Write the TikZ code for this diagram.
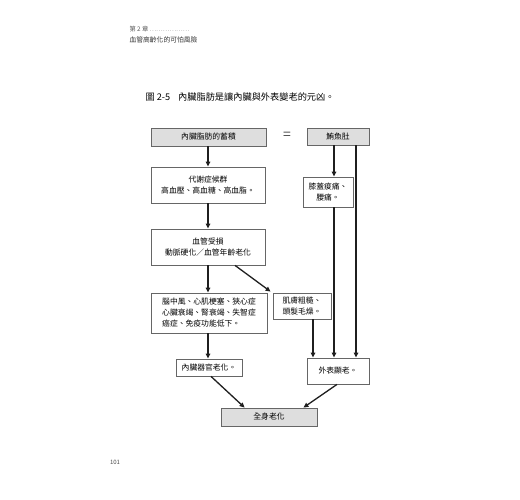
\documentclass[tikz,border=0pt]{standalone}
\usepackage{fontspec}
\setmainfont{Noto Sans CJK TC}
\usetikzlibrary{arrows.meta,calc}
\begin{document}
\begin{tikzpicture}[x=1pt,y=-1pt,
  box/.style={draw=black!60,line width=0.8pt,fill=white,inner sep=1pt,align=center,font=\fontsize{7.8}{11}\selectfont,text=black},
  graybox/.style={box,fill=black!13},
  arr/.style={draw=black!88,line width=1.3pt,-{Triangle[length=5pt,width=4.5pt]}},
  ln/.style={draw=black!88,line width=1.3pt}]
\useasboundingbox (0,0) rectangle (520,500);
% header
\node[anchor=west,font=\fontsize{6.3}{7}\selectfont,text=black!65] (ch) at (126,29) {第 2 章\,\textcolor{black!45}{………………}};
\node[anchor=west,font=\fontsize{6.8}{7}\selectfont,text=black!80] (sub) at (126,40) {血管高齡化的可怕風險};
\node[anchor=west,font=\fontsize{9.2}{10}\selectfont,text=black] (title) at (142,97) {圖 2-5\hspace{8pt}內臟脂肪是讓內臟與外表變老的元凶。};
\node[font=\fontsize{6}{7}\selectfont,text=black!70] (pg) at (115,462) {101};
% boxes
\node[graybox,minimum width=115pt,minimum height=18pt] (fat) at (208.5,137) {內臟脂肪的蓄積};
\node[font=\fontsize{14}{14}\selectfont,text=black!70] (eq) at (287,136) {=};
\node[graybox,minimum width=62pt,minimum height=17pt] (belly) at (338,136.5) {鮪魚肚};
\node[box,minimum width=114pt,minimum height=36pt] (meta) at (208,185) {代謝症候群\\高血壓、高血糖、高血脂。};
\node[box,minimum width=50pt,minimum height=30pt] (knee) at (328,192) {膝蓋痠痛、\\腰痛。};
\node[box,minimum width=114pt,minimum height=36pt] (vessel) at (208,247) {血管受損\\動脈硬化／血管年齡老化};
\node[box,minimum width=116pt,minimum height=40pt,align=left] (dis) at (209,313) {腦中風、心肌梗塞、狹心症\\心臟衰竭、腎衰竭、失智症\\癌症、免疫功能低下。};
\node[box,minimum width=58pt,minimum height=26pt] (skin) at (302,306) {肌膚粗糙、\\頭髮毛燥。};
\node[box,minimum width=66pt,minimum height=17pt] (organ) at (209,367.5) {內臟器官老化。};
\node[box,minimum width=62pt,minimum height=26pt] (app) at (338,371) {外表顯老。};
\node[graybox,minimum width=96pt,minimum height=18pt] (whole) at (269,417) {全身老化};
% x guides
\coordinate (xa) at (208,0);
\coordinate (xk) at (334,0);
\coordinate (xr) at (356,0);
\coordinate (xs) at (313,0);
\coordinate (xv) at (235,0);
% connectors
\draw[arr] (fat.south -| xa) -- (meta.north -| xa);
\draw[arr] (meta.south -| xa) -- (vessel.north -| xa);
\draw[arr] (vessel.south -| xa) -- (dis.north -| xa);
\draw[arr] (vessel.south -| xv) -- ($(skin.north west)+(-2,-1)$);
\draw[arr] (belly.south -| xk) -- (knee.north -| xk);
\draw[arr] (knee.south -| xk) -- (app.north -| xk);
\draw[arr] (belly.south -| xr) -- (app.north -| xr);
\draw[arr] (skin.south -| xs) -- (app.north -| xs);
\draw[arr] (dis.south -| xa) -- (organ.north -| xa);
\draw[arr] ($(organ.south)+(2,0)$) -- ($(whole.north west)+(24,0)$);
\draw[arr] ($(app.south)+(-1,0)$) -- ($(whole.north east)+(-14,0)$);
\end{tikzpicture}
\end{document}
